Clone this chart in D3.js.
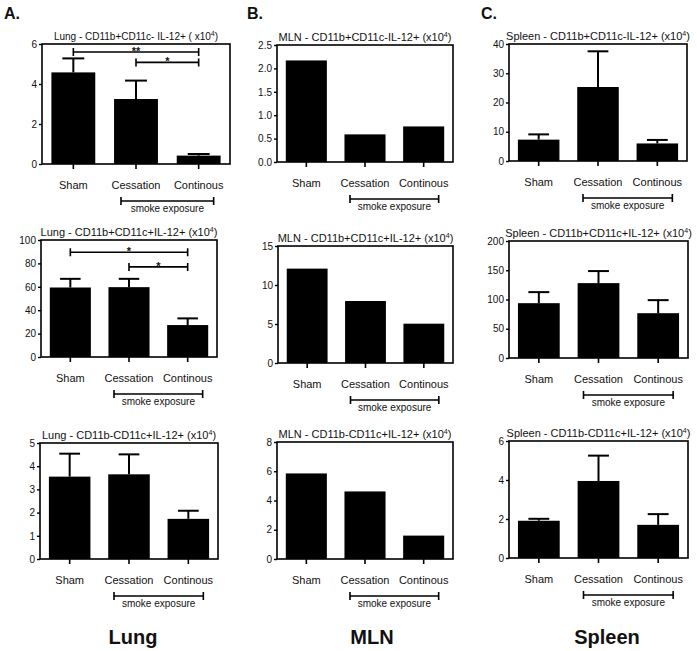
<!DOCTYPE html>
<html>
<head>
<meta charset="utf-8">
<script src="https://cdn.jsdelivr.net/npm/d3@7"></script>
<style>
  body { margin: 0; background: #fff; }
  text { font-family: "Liberation Sans", Arial, sans-serif; fill: #111; }
</style>
</head>
<body>
<svg id="draw" width="697" height="651"></svg>
<script>
// data (values x10^4)
const categories = ["Sham", "Cessation", "Continous"];

const lung1Mean = [4.58, 3.25, 0.42];
const lung1Sem = [0.70, 0.92, 0.08];
const lung2Mean = [59.4, 59.7, 27.3];
const lung2Sem = [7.4, 7.1, 5.7];
const lung3Mean = [3.55, 3.65, 1.73];
const lung3Sem = [0.99, 0.86, 0.35];

const mln1Mean = [2.17, 0.59, 0.76];
const mln2Mean = [12.1, 7.95, 5.04];
const mln3Mean = [5.85, 4.62, 1.6];

const spleen1Mean = [7.3, 25.3, 6.0];
const spleen1Sem = [1.8, 12.2, 1.2];
const spleen2Mean = [93.7, 128, 76.6];
const spleen2Sem = [18.9, 20.6, 22.3];
const spleen3Mean = [1.91, 3.95, 1.70];
const spleen3Sem = [0.10, 1.30, 0.55];

const lung1Ticks = [0, 2, 4, 6];
const lung2Ticks = [0, 20, 40, 60, 80, 100];
const lung3Ticks = [0, 1, 2, 3, 4, 5];
const mln1Ticks = [0, 0.5, 1.0, 1.5, 2.0, 2.5];
const mln2Ticks = [0, 5, 10, 15];
const mln3Ticks = [0, 2, 4, 6, 8];
const spleen1Ticks = [0, 10, 20, 30, 40];
const spleen2Ticks = [0, 50, 100, 150, 200];
const spleen3Ticks = [0, 2, 4, 6];

// significance brackets: from / to category index, height, stars
const lung1Sig = [{ a: 0, b: 2, y: 5.6, label: "**" }, { a: 1, b: 2, y: 5.08, label: "*" }];
const lung2Sig = [{ a: 0, b: 2, y: 89.5, label: "*" }, { a: 1, b: 2, y: 77, label: "*" }];

const panels = [
  { title: "Lung - CD11b+CD11c- IL-12+ ( x10", mean: lung1Mean, sem: lung1Sem, ticks: lung1Ticks, sig: lung1Sig, box: [42, 230, 44, 164], fs: 10 },
  { title: "MLN - CD11b+CD11c-IL-12+ (x10", mean: mln1Mean, ticks: mln1Ticks, fmt: ".1f", box: [277, 453, 45, 162] },
  { title: "Spleen - CD11b+CD11c-IL-12+ (x10", mean: spleen1Mean, sem: spleen1Sem, ticks: spleen1Ticks, box: [509, 687, 44, 161] },
  { title: "Lung - CD11b+CD11c+IL-12+ (x10", mean: lung2Mean, sem: lung2Sem, ticks: lung2Ticks, sig: lung2Sig, box: [41, 217, 240, 357] },
  { title: "MLN - CD11b+CD11c+IL-12+ (x10", mean: mln2Mean, ticks: mln2Ticks, box: [278, 453, 246, 363] },
  { title: "Spleen - CD11b+CD11c+IL-12+ (x10", mean: spleen2Mean, sem: spleen2Sem, ticks: spleen2Ticks, box: [509, 688, 241, 358] },
  { title: "Lung - CD11b-CD11c+IL-12+ (x10", mean: lung3Mean, sem: lung3Sem, ticks: lung3Ticks, box: [40, 218, 443, 559] },
  { title: "MLN - CD11b-CD11c+IL-12+ (x10", mean: mln3Mean, ticks: mln3Ticks, box: [277, 453, 442, 559] },
  { title: "Spleen - CD11b-CD11c+IL-12+ (x10", mean: spleen3Mean, sem: spleen3Sem, ticks: spleen3Ticks, box: [509, 688, 441, 558] }
];

const svg = d3.select("#draw");

panels.forEach(function(p) {
  const [left, right, top, bottom] = p.box;
  const g = svg.append("g");

  const x = d3.scaleBand()
    .domain(categories)
    .range([left, right])
    .paddingInner(0.3)
    .paddingOuter(0.15);

  const y = d3.scaleLinear()
    .domain([0, d3.max(p.ticks)])
    .range([bottom, top]);

  // bars
  g.selectAll(".bar")
    .data(p.mean)
    .enter().append("rect")
    .attr("x", (d, i) => x(categories[i]))
    .attr("y", d => y(d))
    .attr("width", x.bandwidth())
    .attr("height", d => y(0) - y(d))
    .attr("fill", "#000");

  // error bars (upper only)
  if (p.sem) {
    const eb = g.selectAll(".err")
      .data(p.mean.map((m, i) => ({ m: m, s: p.sem[i], c: categories[i] })))
      .enter().append("g");
    eb.append("line")
      .attr("x1", d => x(d.c) + x.bandwidth() / 2)
      .attr("x2", d => x(d.c) + x.bandwidth() / 2)
      .attr("y1", d => y(d.m))
      .attr("y2", d => y(d.m + d.s))
      .attr("stroke", "#000").attr("stroke-width", 2);
    eb.append("line")
      .attr("x1", d => x(d.c) + x.bandwidth() / 4)
      .attr("x2", d => x(d.c) + x.bandwidth() * 3 / 4)
      .attr("y1", d => y(d.m + d.s))
      .attr("y2", d => y(d.m + d.s))
      .attr("stroke", "#000").attr("stroke-width", 2);
  }

  // frame
  g.append("rect")
    .attr("x", left).attr("y", top)
    .attr("width", right - left).attr("height", bottom - top)
    .attr("fill", "none").attr("stroke", "#000").attr("stroke-width", 1.6);

  // y axis
  const yAxis = d3.axisLeft(y)
    .tickValues(p.ticks)
    .tickSize(3)
    .tickPadding(2)
    .tickFormat(d3.format(p.fmt || "d"));
  const ya = g.append("g")
    .attr("transform", "translate(" + left + ",0)")
    .call(yAxis);
  ya.select(".domain").remove();
  ya.selectAll("line").attr("stroke", "#000").attr("stroke-width", 1.4);
  ya.selectAll("text").style("font-size", "10px").style("font-family", "Liberation Sans, Arial, sans-serif").attr("fill", "#111");

  // x axis
  const xAxis = d3.axisBottom(x).tickSize(5).tickPadding(12);
  const xa = g.append("g")
    .attr("transform", "translate(0," + bottom + ")")
    .call(xAxis);
  xa.select(".domain").remove();
  xa.selectAll("line").attr("stroke", "#000").attr("stroke-width", 1.6);
  xa.selectAll("text").style("font-size", "11px").style("font-family", "Liberation Sans, Arial, sans-serif").attr("fill", "#111");

  // title
  const t = g.append("text")
    .attr("x", (left + right) / 2)
    .attr("y", top - 4)
    .attr("text-anchor", "middle")
    .style("font-size", (p.fs || 11) + "px")
    .text(p.title);
  t.append("tspan").attr("dy", -4).style("font-size", "7px").text("4");
  t.append("tspan").attr("dy", 4).text(")");

  // smoke exposure bracket
  const bx1 = x("Cessation") + x.bandwidth() / 2 - 15;
  const bx2 = x("Continous") + x.bandwidth() / 2 + 15;
  const by = bottom + 37;
  g.append("path")
    .attr("d", "M" + bx1 + "," + (by - 4) + "V" + (by + 4) + "M" + bx1 + "," + by + "H" + bx2 + "M" + bx2 + "," + (by - 4) + "V" + (by + 4))
    .attr("stroke", "#000").attr("stroke-width", 1.6).attr("fill", "none");
  g.append("text")
    .attr("x", (bx1 + bx2) / 2)
    .attr("y", by + 11)
    .attr("text-anchor", "middle")
    .style("font-size", "10px")
    .text("smoke exposure");

  // significance brackets
  (p.sig || []).forEach(function(s) {
    const sx1 = x(categories[s.a]) + x.bandwidth() / 2;
    const sx2 = x(categories[s.b]) + x.bandwidth() / 2;
    const sy = y(s.y);
    g.append("path")
      .attr("d", "M" + sx1 + "," + (sy - 4) + "V" + (sy + 4) + "M" + sx1 + "," + sy + "H" + sx2 + "M" + sx2 + "," + (sy - 4) + "V" + (sy + 4))
      .attr("stroke", "#000").attr("stroke-width", 1.6).attr("fill", "none");
    g.append("text")
      .attr("x", (sx1 + sx2) / 2)
      .attr("y", sy + 3)
      .attr("text-anchor", "middle")
      .style("font-size", "11px")
      .style("font-weight", "bold")
      .text(s.label);
  });
});

// panel letters
const letters = ["A.", "B.", "C."];
const letterX = [4, 247, 481];
svg.selectAll(".letter")
  .data(letters)
  .enter().append("text")
  .attr("x", (d, i) => letterX[i])
  .attr("y", 19)
  .style("font-size", "16px")
  .style("font-weight", "bold")
  .text(d => d);

// tissue labels
const tissues = ["Lung", "MLN", "Spleen"];
const tissueX = [133, 372, 607];
svg.selectAll(".tissue")
  .data(tissues)
  .enter().append("text")
  .attr("x", (d, i) => tissueX[i])
  .attr("y", 644)
  .attr("text-anchor", "middle")
  .style("font-size", "20px")
  .style("font-weight", "bold")
  .text(d => d);
</script>
</body>
</html>
